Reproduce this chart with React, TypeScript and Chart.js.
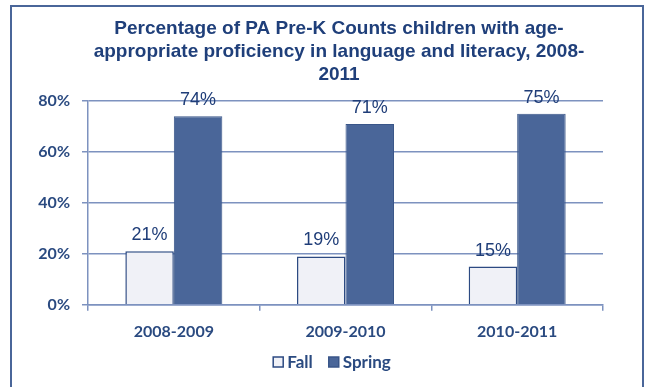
import React, { useEffect, useRef } from "react";
import { Chart, registerables } from "chart.js";

Chart.register(...registerables);

const categories = ["2008-2009", "2009-2010", "2010-2011"];
const fallValues = [21, 19, 15];
const springValues = [74, 71, 75];
const seriesNames = ["Fall", "Spring"];
const titleLines = [
  "Percentage of PA Pre-K Counts children with age-",
  "appropriate proficiency in language and literacy, 2008-",
  "2011",
];

const DARK = "#2c4a82";
const TEXT = "#2a4a80";
const GRID = "#7d92bf";
const FALL_BG = "#f0f1f7";
const SPRING_BG = "#4a6699";

const valueLabels = {
  id: "valueLabels",
  afterDatasetsDraw(chart: any) {
    const ctx = chart.ctx;
    ctx.save();
    ctx.font = "18px 'Liberation Sans', Arial, sans-serif";
    ctx.fillStyle = "#1f3d78";
    ctx.textAlign = "center";
    ctx.textBaseline = "alphabetic";
    chart.data.datasets.forEach((ds: any, i: number) => {
      const meta = chart.getDatasetMeta(i);
      meta.data.forEach((bar: any, j: number) => {
        ctx.fillText(ds.data[j] + "%", bar.x, bar.y - 11);
      });
    });
    ctx.restore();
  },
};

const customTitle = {
  id: "customTitle",
  afterDraw(chart: any) {
    const ctx = chart.ctx;
    ctx.save();
    ctx.font = "bold 19px 'Liberation Sans', Arial, sans-serif";
    ctx.fillStyle = "#1f3f7a";
    ctx.textAlign = "center";
    ctx.textBaseline = "alphabetic";
    const cx = 339;
    titleLines.forEach((line, i) => {
      ctx.fillText(line, cx, 34 + i * 23);
    });
    ctx.restore();
  },
};

const customLegend = {
  id: "customLegend",
  afterDraw(chart: any) {
    const ctx = chart.ctx;
    ctx.save();
    ctx.font = "bold 17px Lato, sans-serif";
    ctx.textBaseline = "middle";
    ctx.textAlign = "left";
    const box = 10;
    const gap = 4;
    const spacing = 16;
    const cy = 362;
    const widths = chart.data.datasets.map((ds: any) => ctx.measureText(ds.label).width);
    const total = widths.reduce((a: number, w: number) => a + box + gap + w, 0) + spacing * (widths.length - 1);
    let x = 332 - total / 2;
    chart.data.datasets.forEach((ds: any, i: number) => {
      ctx.fillStyle = ds.backgroundColor;
      ctx.fillRect(x, cy - box / 2, box, box);
      ctx.strokeStyle = ds.borderColor;
      ctx.lineWidth = 1.5;
      ctx.strokeRect(x, cy - box / 2, box, box);
      ctx.fillStyle = TEXT;
      ctx.fillText(ds.label, x + box + gap, cy + 1);
      x += box + gap + widths[i] + spacing;
    });
    ctx.restore();
  },
};

export default function App() {
  const ref = useRef<HTMLCanvasElement>(null);
  useEffect(() => {
    if (!ref.current) return;
    const chart = new Chart(ref.current, {
      type: "bar",
      data: {
        labels: categories,
        datasets: [
          {
            label: seriesNames[0],
            data: fallValues,
            backgroundColor: FALL_BG,
            borderColor: DARK,
            borderWidth: 1.5,
          },
          {
            label: seriesNames[1],
            data: springValues,
            backgroundColor: SPRING_BG,
            borderColor: "#3a5689",
            borderWidth: 1,
          },
        ],
      },
      options: {
        responsive: false,
        animation: false,
        barPercentage: 1,
        categoryPercentage: 0.565,
        layout: { padding: { left: 28, right: 45, top: 101, bottom: 35 } },
        plugins: {
          title: { display: false },
          legend: { display: false },
          tooltip: { enabled: false },
        },
        scales: {
          x: {
            grid: { display: true, drawOnChartArea: false, drawTicks: true, tickLength: 6, color: GRID, lineWidth: 1.5 },
            border: { display: true, color: GRID, width: 1.5 },
            ticks: { color: TEXT, padding: 11, font: { family: "Lato, sans-serif", size: 16, weight: "bold" } },
          },
          y: {
            min: 0,
            max: 80,
            afterFit: (scale: any) => {
              scale.width = 60;
            },
            grid: { color: GRID, lineWidth: 1.5, tickLength: 6 },
            border: { display: true, color: GRID, width: 1.5 },
            ticks: {
              stepSize: 20,
              color: TEXT,
              padding: 12,
              font: { family: "Lato, sans-serif", size: 16, weight: "bold" },
              callback: (v: any) => v + "%",
            },
          },
        },
      },
      plugins: [valueLabels, customTitle, customLegend],
    });
    return () => chart.destroy();
  }, []);
  return (
    <div style={{ position: "fixed", left: 0, top: 0, width: 648, height: 387, background: "#fff", overflow: "hidden" }}>
      <div
        style={{
          position: "absolute",
          left: 10,
          top: 5,
          width: 634,
          height: 400,
          border: "2px solid #4a6699",
          boxSizing: "border-box",
        }}
      />
      <canvas ref={ref} width={648} height={387} style={{ position: "absolute", left: 0, top: 0 }} />
    </div>
  );
}
